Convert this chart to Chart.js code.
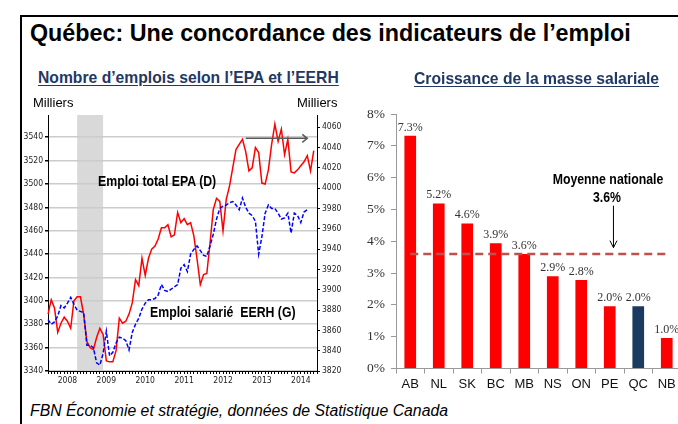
<!DOCTYPE html>
<html><head><meta charset="utf-8">
<script src="https://cdn.jsdelivr.net/npm/chart.js@4/dist/chart.umd.min.js"></script>
<style>
html,body{margin:0;padding:0;width:678px;height:424px;overflow:hidden;background:#fff;font-family:"Liberation Sans",Arial,sans-serif;color:#000;}
.abs{position:absolute;white-space:nowrap;line-height:1;}
.sub{font-size:15.7px;font-weight:bold;color:#1f3864;text-decoration:underline;text-underline-offset:2px;}
.nb{font-family:"Liberation Sans",Arial,sans-serif;font-weight:bold;font-size:15px;color:#000;transform:scaleX(0.82);transform-origin:0 0;}
.nbc{transform-origin:50% 0;}
#frameTop{position:absolute;left:20px;top:15px;width:658px;height:2px;background:#000;}
#frameLeft{position:absolute;left:20px;top:15px;width:2px;height:409px;background:#000;}
canvas{position:absolute;}
</style></head>
<body>
<div id="frameTop"></div><div id="frameLeft"></div>
<canvas id="leftChart" width="330" height="280" style="left:20px;top:105px"></canvas>
<canvas id="rightChart" width="345" height="300" style="left:340px;top:100px"></canvas>
<div class="abs" style="left:30px;top:21.5px;font-size:23.3px;font-weight:bold;">Québec: Une concordance des indicateurs de l’emploi</div>
<div class="abs sub" style="left:38px;top:70px">Nombre d’emplois selon l’EPA et l’EERH</div>
<div class="abs sub" style="left:414px;top:71px">Croissance de la masse salariale</div>
<div class="abs" style="left:33px;top:95.7px;font-size:13px;">Milliers</div>
<div class="abs" style="left:297px;top:95.7px;font-size:13px;">Milliers</div>
<div class="abs nb" style="left:98px;top:173.3px">Emploi total EPA (D)</div>
<div class="abs nb" style="left:150px;top:304.3px">Emploi salarié&nbsp;&nbsp;EERH (G)</div>
<div class="abs nb nbc" style="left:527.5px;top:171.3px;width:160px;text-align:center">Moyenne nationale</div>
<div class="abs nb nbc" id="avgVal" style="left:527px;top:189px;width:160px;text-align:center"></div>
<div class="abs" style="left:30px;top:402.7px;font-size:15.8px;font-style:italic;">FBN Économie et stratégie, données de Statistique Canada</div>
<script>
// ---------- Left chart data ----------
const years = ['2008','2009','2010','2011','2012','2013','2014'];
const monthNums = ['01','02','03','04','05','06','07','08','09','10','11','12'];
const months = years.flatMap(y => monthNums.map(m => y + '-' + m));
const yearTickMonth = '07';
// Emploi total EPA (right axis, thousands)
const epaTotal = [3876,3890,3882,3858,3867,3873,3869,3862,3889,3893,3893,3876,
  3849,3843,3841,3853,3862,3856,3830,3829,3829,3840,3872,3867,
  3869,3876,3887,3910,3904,3931,3914,3931,3940,3943,3950,3961,
  3961,3964,3952,3954,3976,3966,3970,3964,3966,3953,3930,3905,
  3915,3916,3946,3979,3990,3987,3958,3989,4002,4020,4038,4043,
  4048,4036,4017,4020,4040,4035,4005,4004,4018,4043,4063,4046,
  4058,4033,4048,4016,4015,4018,4022,4026,4032,4017,4037];
// Emploi salarié EERH (left axis, thousands)
const eerhSalarie = [3384,3380,3382,3387,3396,3394,3398,3403,3397,3392,3391,3390,
  3362,3362,3360,3347,3345,3355,3374,3353,3356,3364,3369,3368,
  3366,3358,3373,3380,3385,3393,3398,3401,3401,3402,3405,3414,
  3409,3408,3410,3412,3414,3428,3431,3425,3440,3444,3447,3443,
  3439,3438,3447,3457,3470,3479,3481,3482,3484,3485,3482,3478,
  3488,3480,3475,3473,3468,3440,3455,3475,3482,3479,3479,3475,
  3470,3471,3475,3458,3475,3473,3467,3476,3478];
const recession = ['2008-10','2009-06'];
const levelArrow = {from:'2013-02', to:'2014-09', value:4049};

// ---------- Right chart data ----------
const provinces = ['AB','NL','SK','BC','MB','NS','ON','PE','QC','NB'];
const payrollGrowth = [7.32,5.19,4.56,3.94,3.6,2.9,2.78,1.96,1.96,0.96];
const highlight = 'QC';
const nationalAvg = 3.6;
const avgArrow = {index:7.13, fromValue:5.12, toValue:3.8};

const tickFont = "'DejaVu Sans Condensed','Liberation Sans',Arial,sans-serif";
const serif = "'Liberation Serif','Times New Roman',serif";
document.getElementById('avgVal').textContent = nationalAvg.toFixed(1) + '%';

const recessionPlugin = {
  id:'recession',
  beforeDraw(chart){
    const {ctx, chartArea:a, scales:{x}} = chart;
    const x0 = x.getPixelForValue(months.indexOf(recession[0]));
    const x1 = x.getPixelForValue(months.indexOf(recession[1]));
    ctx.save(); ctx.fillStyle = '#d9d9d9';
    ctx.fillRect(x0, a.top, x1 - x0, a.bottom - a.top); ctx.restore();
  }
};
const levelArrowPlugin = {
  id:'levelArrow',
  afterDatasetsDraw(chart){
    const {ctx, scales:{x, yR}} = chart;
    const x0 = x.getPixelForValue(months.indexOf(levelArrow.from));
    const x1 = x.getPixelForValue(months.indexOf(levelArrow.to));
    const y = yR.getPixelForValue(levelArrow.value);
    ctx.save(); ctx.strokeStyle = '#595959'; ctx.lineWidth = 1.5;
    ctx.beginPath(); ctx.moveTo(x0, y); ctx.lineTo(x1, y);
    ctx.moveTo(x1 - 5, y - 4); ctx.lineTo(x1, y); ctx.lineTo(x1 - 5, y + 4);
    ctx.stroke(); ctx.restore();
  }
};

new Chart(document.getElementById('leftChart'), {
  type:'line',
  data:{labels:months, datasets:[
    {label:'Emploi salarié EERH (G)', data:eerhSalarie, yAxisID:'yL', borderColor:'#0000ff', borderWidth:1.5, borderDash:[4,2], pointRadius:0, tension:0, fill:false},
    {label:'Emploi total EPA (D)', data:epaTotal, yAxisID:'yR', borderColor:'#ff0000', borderWidth:1.5, pointRadius:0, tension:0, fill:false}
  ]},
  options:{
    responsive:false, animation:false, devicePixelRatio:1,
    layout:{padding:{top:10,left:0,right:0,bottom:0}},
    plugins:{legend:{display:false}, tooltip:{enabled:false}},
    scales:{
      x:{type:'category', offset:false,
        grid:{display:true, drawOnChartArea:false, drawTicks:true, tickLength:3, tickColor:'#000'},
        border:{color:'#000', width:1},
        ticks:{autoSkip:false, maxRotation:0, minRotation:0, padding:2, color:'#222', font:{family:tickFont, size:8.5},
          callback:(v,i)=> months[i].slice(5) === yearTickMonth ? months[i].slice(0,4) : ''},
        afterFit:(s)=>{ s.height = 14; }},
      yL:{type:'linear', position:'left', min:3340, max:3559,
        grid:{color:'#cccccc', lineWidth:1.5, tickLength:3, tickColor:'#000'},
        border:{color:'#000', width:1},
        ticks:{stepSize:20, includeBounds:false, padding:2, color:'#222', font:{family:tickFont, size:8.5}, callback:v => String(v)},
        afterFit:(s)=>{ s.width = 28; }},
      yR:{type:'linear', position:'right', min:3820, max:4072,
        grid:{drawOnChartArea:false, tickLength:3, tickColor:'#000'},
        border:{color:'#000', width:1},
        ticks:{stepSize:20, includeBounds:false, padding:2, color:'#222', font:{family:tickFont, size:8.5}, callback:v => String(v)},
        afterFit:(s)=>{ s.width = 33; }}
    }
  },
  plugins:[recessionPlugin, levelArrowPlugin]
});

const barLabelPlugin = {
  id:'barLabels',
  afterDatasetsDraw(chart){
    const {ctx} = chart;
    const meta = chart.getDatasetMeta(0);
    ctx.save(); ctx.font = '12px ' + serif; ctx.fillStyle = '#333';
    ctx.textAlign = 'center'; ctx.textBaseline = 'alphabetic';
    meta.data.forEach((bar,i)=> ctx.fillText(payrollGrowth[i].toFixed(1) + '%', bar.x, bar.y - 5));
    ctx.restore();
  }
};
const avgArrowPlugin = {
  id:'avgArrow',
  afterDraw(chart){
    const {ctx, scales:{x, y}} = chart;
    const px = x.getPixelForValue(avgArrow.index);
    const y0 = y.getPixelForValue(avgArrow.fromValue);
    const y1 = y.getPixelForValue(avgArrow.toValue);
    ctx.save(); ctx.strokeStyle = '#000'; ctx.lineWidth = 1;
    ctx.beginPath(); ctx.moveTo(px, y0); ctx.lineTo(px, y1);
    ctx.moveTo(px - 3.5, y1 - 7); ctx.lineTo(px, y1); ctx.lineTo(px + 3.5, y1 - 7);
    ctx.stroke(); ctx.restore();
  }
};

new Chart(document.getElementById('rightChart'), {
  type:'bar',
  data:{labels:provinces, datasets:[
    {type:'bar', label:'Croissance', data:payrollGrowth, order:1,
      backgroundColor:provinces.map(p => p === highlight ? '#1b3a5f' : '#ff0000'),
      barPercentage:0.41, categoryPercentage:1},
    {type:'line', label:'Moyenne nationale', data:provinces.map(() => nationalAvg), order:0,
      borderColor:'#c0504d', borderWidth:2.5, borderDash:[8,5], pointRadius:0, fill:false}
  ]},
  options:{
    responsive:false, animation:false, devicePixelRatio:1,
    layout:{padding:{top:13,left:0,right:4,bottom:0}},
    plugins:{legend:{display:false}, tooltip:{enabled:false}},
    scales:{
      x:{grid:{display:true, drawOnChartArea:false, tickLength:5, tickColor:'#999', offset:true},
        border:{color:'#999', width:1},
        ticks:{padding:3, color:'#111', font:{family:"'Liberation Sans',Arial,sans-serif", size:13}},
        afterFit:(s)=>{ s.height = 31.5; }},
      y:{min:0, max:8,
        grid:{drawOnChartArea:false, tickLength:5, tickColor:'#999'},
        border:{color:'#999', width:1},
        ticks:{stepSize:1, padding:6, color:'#333', font:{family:serif, size:13.5}, callback:v => v + '%'},
        afterFit:(s)=>{ s.width = 56; }}
    }
  },
  plugins:[barLabelPlugin, avgArrowPlugin]
});
</script>
</body></html>
